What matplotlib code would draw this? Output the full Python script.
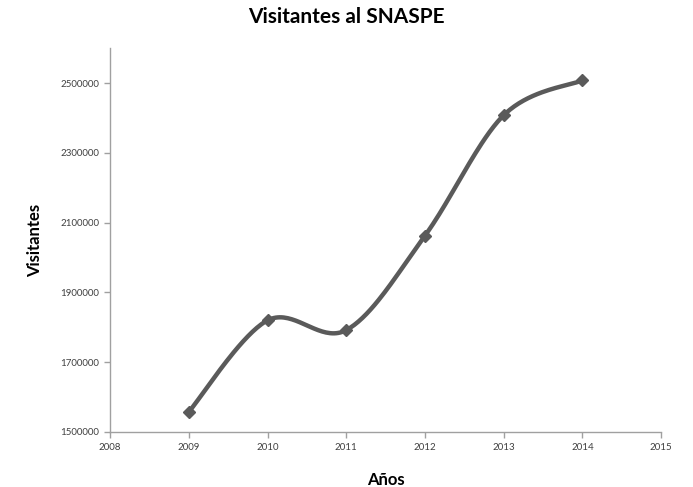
import numpy as np
import matplotlib.pyplot as plt

# Visitantes al SNASPE por año
years = [2009, 2010, 2011, 2012, 2013, 2014]
visitors = [1558000, 1820000, 1792000, 2063000, 2408000, 2508000]

x_ticks = [2008, 2009, 2010, 2011, 2012, 2013, 2014, 2015]
y_ticks = [1500000, 1700000, 1900000, 2100000, 2300000, 2500000]


def smooth_curve(x, y, n=40):
    """Excel-style smoothed line: cubic Bezier segments, Catmull-Rom control points."""
    x = np.asarray(x, float)
    y = np.asarray(y, float)
    pts = np.column_stack((x, y))
    out = []
    for i in range(len(pts) - 1):
        p0 = pts[i - 1] if i > 0 else pts[i]
        p1 = pts[i]
        p2 = pts[i + 1]
        p3 = pts[i + 2] if i + 2 < len(pts) else pts[i + 1]
        c1 = p1 + (p2 - p0) / 6
        c2 = p2 - (p3 - p1) / 6
        t = np.linspace(0, 1, n)[:, None]
        seg = ((1 - t) ** 3) * p1 + 3 * ((1 - t) ** 2) * t * c1 + 3 * (1 - t) * t ** 2 * c2 + t ** 3 * p2
        out.append(seg if i == 0 else seg[1:])
    seg = np.vstack(out)
    return seg[:, 0], seg[:, 1]


plt.rcParams['font.family'] = ['Lato', 'DejaVu Sans']

fig = plt.figure(figsize=(6.93, 4.87), dpi=100)
ax = fig.add_axes([0.159, 0.113, 0.795, 0.788])

sx, sy = smooth_curve(years, visitors)
ax.plot(sx, sy, color='#5a5a5a', lw=3.2, solid_capstyle='round', zorder=3)
ax.plot(years, visitors, ls='none', marker='D', ms=6, color='#5a5a5a', zorder=4)

ax.set_xlim(2008, 2015)
ax.set_ylim(1500000, 2600000)
ax.set_xticks(x_ticks)
ax.set_yticks(y_ticks)
ax.set_xticklabels([str(v) for v in x_ticks], fontsize=7, color='#404040')
ax.set_yticklabels([str(v) for v in y_ticks], fontsize=7, color='#404040')

for s in ['top', 'right']:
    ax.spines[s].set_visible(False)
for s in ['left', 'bottom']:
    ax.spines[s].set_color('#a0a0a0')
    ax.spines[s].set_linewidth(1)
ax.tick_params(axis='both', colors='#a0a0a0', length=4, width=1, labelcolor='#404040', pad=4)

fig.suptitle('Visitantes al SNASPE', fontsize=15, fontweight='bold', x=0.5, y=0.985)
ax.set_xlabel('Años', fontsize=12, fontweight='bold', labelpad=14)
ax.set_ylabel('Visitantes', fontsize=12, fontweight='bold', labelpad=12)

fig.savefig('out.png', dpi=100)
